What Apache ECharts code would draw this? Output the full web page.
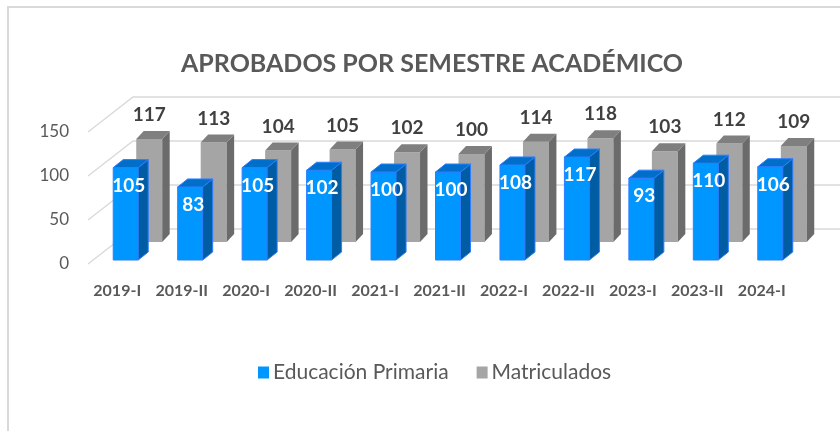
<!DOCTYPE html>
<html>
<head>
<meta charset="utf-8">
<script src="https://cdn.jsdelivr.net/npm/echarts@6/dist/echarts.min.js"></script>
<style>
  html, body { margin: 0; padding: 0; background: #fff; }
  #chart { width: 840px; height: 431px; }
</style>
</head>
<body>
<div id="chart"></div>
<script>
const semesters = ['2019-I', '2019-II', '2020-I', '2020-II', '2021-I', '2021-II', '2022-I', '2022-II', '2023-I', '2023-II', '2024-I'];
const aprobados = [105, 83, 105, 102, 100, 100, 108, 117, 93, 110, 106];
const matriculados = [117, 113, 104, 105, 102, 100, 114, 118, 103, 112, 109];
const yTicks = [0, 50, 100, 150];

const FONT = 'Lato';

// looks of the two rows of 3d columns (offsets as fraction of band width)
const blueRow = { dx: -0.062, w: 0.388, dy: -4, depth: 0.155, up: -8,
  front: '#0096ff', side: '#005ca3', top: '#006fc9', stroke: '#2f7dff',
  text: '#ffffff', inside: true };
const grayRow = { dx: 0.295, w: 0.403, dy: -22, depth: 0.116, up: -8,
  front: '#a5a5a5', side: '#6b6b6b', top: '#7f7f7f', stroke: null,
  text: '#404040', inside: false };

function bar3d(row) {
  return function (params, api) {
    const i = api.value(0), v = api.value(1);
    const base = api.coord([i, 0]);
    const top = api.coord([i, v]);
    const bw = api.size([1, 0])[0];
    const x0 = base[0] + row.dx * bw, x1 = x0 + row.w * bw;
    const yb = base[1] + row.dy, yt = top[1] + row.dy;
    const ddx = row.depth * bw, ddy = row.up;
    const sw = row.stroke ? 1 : 0;
    const children = [
      { type: 'polygon', shape: { points: [[x0, yb], [x1, yb], [x1, yt], [x0, yt]] },
        style: { fill: row.front, stroke: row.stroke, lineWidth: sw } },
      { type: 'polygon', shape: { points: [[x1, yb], [x1 + ddx, yb + ddy], [x1 + ddx, yt + ddy], [x1, yt]] },
        style: { fill: row.side, stroke: row.stroke, lineWidth: sw } },
      { type: 'polygon', shape: { points: [[x0, yt], [x1, yt], [x1 + ddx, yt + ddy], [x0 + ddx, yt + ddy]] },
        style: { fill: row.top, stroke: row.stroke, lineWidth: sw } }
    ];
    const cx = (x0 + x1) / 2;
    children.push({
      type: 'text',
      style: {
        text: String(v),
        x: row.inside ? cx + 3 : cx,
        y: row.inside ? yt + 18 : yt + ddy - 16,
        align: 'center', verticalAlign: 'middle',
        fill: row.text, font: 'bold 19px ' + FONT
      }
    });
    return { type: 'group', children: children };
  };
}

function gridWall(params, api) {
  const v = api.value(1);
  const p = api.coord([0, v]);
  const cs = params.coordSys;
  const x = cs.x + 3, y = p[1];
  return {
    type: 'polyline',
    shape: { points: [[x, y], [x + 45, y - 35], [cs.x + cs.width + 200, y - 35]] },
    style: { stroke: '#d9d9d9', lineWidth: 1.3, fill: null }
  };
}

const chart = echarts.init(document.getElementById('chart'), null, { renderer: 'canvas' });
chart.setOption({
  animation: false,
  backgroundColor: '#ffffff',
  graphic: [{
    type: 'polyline',
    shape: { points: [[8, 440], [8, 7], [850, 7]] },
    style: { stroke: '#d9d9d9', lineWidth: 2, fill: null }
  }],
  title: {
    text: 'APROBADOS POR SEMESTRE ACADÉMICO',
    left: 427, top: 46, textAlign: 'center',
    textStyle: { fontFamily: FONT, fontWeight: 'bold', fontSize: 25, color: '#595959' }
  },
  legend: {
    left: 253, top: 357,
    itemWidth: 11, itemHeight: 12, itemGap: 28,
    icon: 'rect',
    textStyle: { fontFamily: FONT, fontSize: 21, color: '#595959', padding: [0, 0, 0, -1] },
    data: ['Educación Primaria', 'Matriculados']
  },
  grid: { left: 85, right: 46, top: 132, bottom: 167 },
  xAxis: {
    type: 'category',
    data: semesters,
    axisLine: { show: false },
    axisTick: { show: false },
    axisLabel: { interval: 0, margin: 19, fontFamily: FONT, fontWeight: 'bold', fontSize: 16, color: '#595959' }
  },
  yAxis: {
    type: 'value',
    min: 0, max: 150, interval: 50,
    axisLine: { show: false },
    axisTick: { show: false },
    splitLine: { show: false },
    axisLabel: { margin: 16, fontFamily: FONT, fontSize: 17, color: '#595959' }
  },
  series: [
    {
      type: 'custom', name: 'grid', silent: true, z: 1,
      renderItem: gridWall,
      data: yTicks.map(v => [0, v])
    },
    {
      type: 'custom', name: 'Matriculados', z: 2,
      itemStyle: { color: '#a5a5a5' },
      renderItem: bar3d(grayRow),
      data: matriculados.map((v, i) => [i, v])
    },
    {
      type: 'custom', name: 'Educación Primaria', z: 3,
      itemStyle: { color: '#0096ff' },
      renderItem: bar3d(blueRow),
      data: aprobados.map((v, i) => [i, v])
    }
  ]
});
</script>
</body>
</html>
